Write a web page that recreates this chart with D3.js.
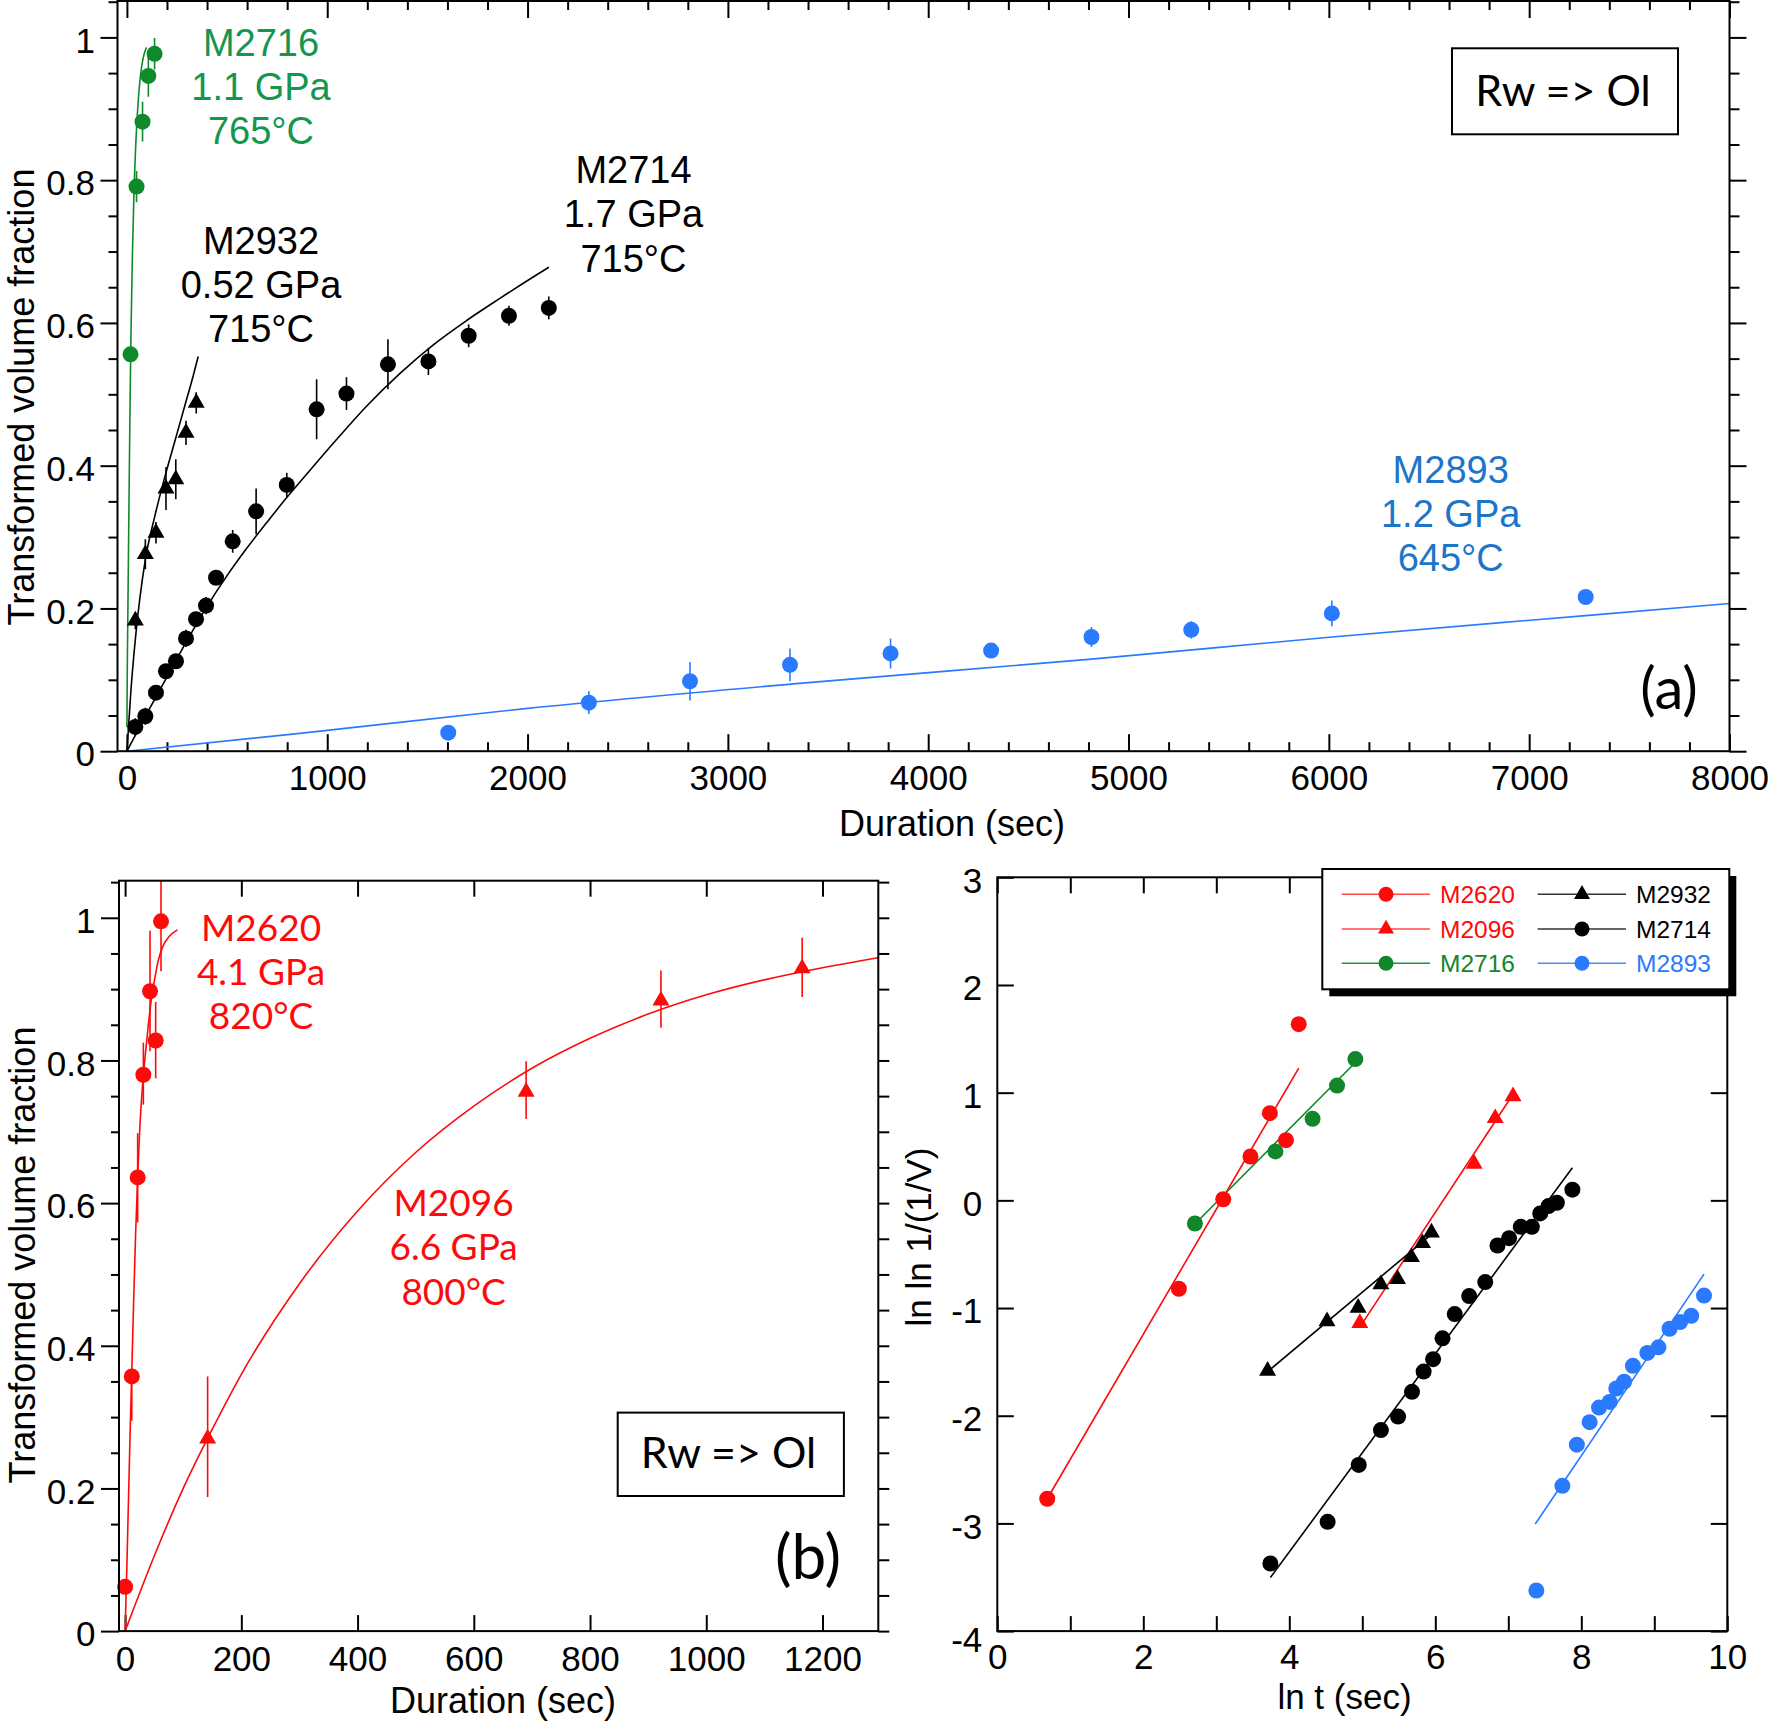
<!DOCTYPE html>
<html><head><meta charset="utf-8">
<script src="https://cdn.jsdelivr.net/npm/d3@7"></script>
<style>
html,body{margin:0;padding:0;background:#fff;}
svg{display:block;}
</style></head><body>
<svg id="chart" width="1770" height="1723"></svg>
<script>
// ================= DATA =================
// Panel (a): [duration (s), transformed fraction, error]
const aM2716 = [[18,0.556,0.006],[48,0.791,0.022],[78,0.882,0.028],[107,0.946,0.029],[138,0.977,0.022]];
const aM2716Fit = [[0,0.034],[2,0.12],[5,0.2],[10,0.34],[15,0.47],[20,0.58],[27,0.69],[35,0.78],[45,0.855],[55,0.905],[65,0.94],[80,0.97],[98,0.986]];
const aM2932 = [[42,0.183,0.012],[92,0.276,0.021],[145,0.306,0.015],[195,0.368,0.03],[244,0.381,0.028],[295,0.446,0.017],[346,0.488,0.015]];
const aM2932Fit = [[0,0],[20,0.085],[45,0.165],[90,0.265],[140,0.33],[190,0.385],[240,0.435],[290,0.485],[330,0.525],[356,0.553]];
const aM2714 = [[42,0.034,0.012],[92,0.049,0.012],[145,0.082,0.01],[195,0.112,0.01],[245,0.126,0.01],[295,0.158,0.012],[345,0.185,0.01],[395,0.204,0.012],[445,0.243,0.01],[528,0.294,0.016],[645,0.336,0.032],[798,0.373,0.017],[947,0.479,0.042],[1096,0.501,0.023],[1303,0.542,0.035],[1505,0.546,0.019],[1706,0.582,0.016],[1907,0.610,0.014],[2106,0.621,0.016]];
const aM2714Fit = [[0,0],[100,0.053],[200,0.104],[300,0.155],[400,0.203],[500,0.246],[600,0.285],[700,0.321],[800,0.356],[900,0.389],[1029,0.431],[1195,0.483],[1362,0.529],[1528,0.569],[1694,0.603],[1860,0.634],[2026,0.664],[2106,0.678]];
const aM2893 = [[1604,0.026,0],[2306,0.068,0.016],[2811,0.098,0.027],[3310,0.121,0.023],[3812,0.137,0.021],[4314,0.141,0.006],[4815,0.160,0.014],[5313,0.170,0.012],[6015,0.193,0.018],[7282,0.216,0.006]];
const aM2893Fit = [[0,0],[863,0.025],[2000,0.06],[3357,0.095],[4815,0.129],[6015,0.160],[7282,0.190],[8000,0.207]];

// Panel (b): [duration (s), fraction, error low, error high]
const bM2620 = [[0,0.062,0.062,0.062],[11.5,0.357,0.295,0.368],[21.6,0.636,0.573,0.698],[31.4,0.780,0.738,0.825],[42.9,0.897,0.813,0.982],[52.6,0.828,0.775,0.882],[61.8,0.995,0.925,1.07]];
const bM2620Fit = [[0,0],[3,0.09],[6,0.19],[9,0.29],[12,0.38],[15,0.47],[18,0.555],[21.6,0.636],[25,0.7],[30,0.765],[35,0.81],[40,0.85],[45,0.885],[50,0.91],[57,0.94],[65,0.96],[75,0.973],[90,0.983]];
const bM2096 = [[142,0.27,0.188,0.357],[690,0.756,0.718,0.799],[922,0.884,0.846,0.926],[1165,0.929,0.889,0.972]];
const bM2096Fit = [[0,0],[50,0.105],[100,0.2],[150,0.283],[200,0.36],[300,0.487],[400,0.589],[500,0.671],[600,0.736],[700,0.789],[800,0.831],[900,0.865],[1000,0.892],[1100,0.913],[1200,0.93],[1296,0.944]];

// Panel (c): [ln t, ln ln 1/(1-V)]
const cM2620 = [[0.684,-2.771],[2.487,-0.821],[3.095,0.010],[3.468,0.407],[3.734,0.810],[3.954,0.559],[4.129,1.636]];
const cM2620Fit = [[0.684,-2.771],[4.129,1.228]];
const cM2096 = [[4.966,-1.140],[6.532,0.339],[6.821,0.763],[7.065,0.967]];
const cM2096Fit = [[4.966,-1.177],[7.065,0.985]];
const cM2716 = [[2.707,-0.215],[3.810,0.454],[4.319,0.757],[4.654,1.066],[4.905,1.312]];
const cM2716Fit = [[2.707,-0.22],[4.905,1.28]];
const cM2932 = [[3.703,-1.584],[4.517,-1.124],[4.943,-0.999],[5.255,-0.779],[5.483,-0.732],[5.673,-0.528],[5.825,-0.398],[5.947,-0.299]];
const cM2932Fit = [[3.703,-1.59],[5.947,-0.315]];
const cM2714 = [[3.741,-3.372],[4.525,-2.985],[4.951,-2.457],[5.255,-2.133],[5.490,-2.008],[5.681,-1.778],[5.840,-1.590],[5.970,-1.475],[6.099,-1.281],[6.266,-1.056],[6.464,-0.889],[6.684,-0.759],[6.852,-0.419],[7.011,-0.351],[7.171,-0.246],[7.323,-0.246],[7.437,-0.121],[7.551,-0.053],[7.665,-0.022],[7.878,0.099]];
const cM2714Fit = [[3.741,-3.503],[7.878,0.303]];
const cM2893 = [[7.384,-3.623],[7.741,-2.651],[7.939,-2.269],[8.114,-2.060],[8.243,-1.924],[8.388,-1.872],[8.479,-1.747],[8.586,-1.684],[8.707,-1.537],[8.905,-1.417],[9.057,-1.365],[9.209,-1.192],[9.354,-1.130],[9.506,-1.072],[9.681,-0.884]];
const cM2893Fit = [[7.369,-3.006],[9.681,-0.685]];

// Tick values and labels
const aXTicks = [0,1000,2000,3000,4000,5000,6000,7000,8000];
const aYTicks = [0,0.2,0.4,0.6,0.8,1];
const bXTicks = [0,200,400,600,800,1000,1200];
const bYTicks = [0,0.2,0.4,0.6,0.8,1];
const cXTicks = [0,2,4,6,8,10];
const cXMinorTicks = [1,3,5,7,9];
const cYTicks = [-4,-3,-2,-1,0,1,2,3];
const legendNames = ["M2620","M2096","M2716","M2932","M2714","M2893"];
const labelA = {M2716:["M2716","1.1 GPa","765°C"], M2932:["M2932","0.52 GPa","715°C"], M2714:["M2714","1.7 GPa","715°C"], M2893:["M2893","1.2 GPa","645°C"]};
const labelB = {M2620:["M2620","4.1 GPa","820°C"], M2096:["M2096","6.6 GPa","800°C"]};

// ================= DRAWING =================
const FONT = '"Liberation Sans", Arial, Helvetica, sans-serif';
const CAL = 'Lato, "Open Sans", sans-serif';
const COL = {red:"#ff0a0a", black:"#000000", greenA:"#0f8a2a", greenTextA:"#15964e", blue:"#2a7aff", blueTextA:"#1c75c9", greenC:"#12862a"};
const svg = d3.select("#chart");

const CIRC = (r) => d3.symbol().type(d3.symbolCircle).size(Math.PI*r*r)();
const TRI = (L) => d3.symbol().type(d3.symbolTriangle).size(Math.sqrt(3)/4*L*L)();

function axis(gen, x, y, fs, dy){
  const a = svg.append("g").attr("transform",`translate(${x},${y})`).call(gen);
  a.select(".domain").remove();
  a.selectAll(".tick line").attr("stroke","#000").attr("stroke-width",2);
  a.selectAll(".tick text").attr("fill","#000").style("font-family",FONT).style("font-size",fs+"px");
  if(dy!=null) a.selectAll(".tick text").attr("dy",dy);
  return a;
}
function minorVals(lo,hi,step,majorStep){
  const out=[]; const n=Math.round((hi-lo)/step);
  for(let i=0;i<=n;i++){ const v=lo+i*step; const r=v/majorStep; if(Math.abs(r-Math.round(r))>1e-6) out.push(+v.toFixed(6)); }
  return out;
}
function frame(x0,x1,y0,y1){
  svg.append("rect").attr("x",x0).attr("y",y0).attr("width",x1-x0).attr("height",y1-y0)
    .attr("fill","none").attr("stroke","#000").attr("stroke-width",2);
}
function clip(id,x0,x1,y0,y1){
  svg.append("clipPath").attr("id",id).append("rect").attr("x",x0).attr("y",y0).attr("width",x1-x0).attr("height",y1-y0);
  return svg.append("g").attr("clip-path",`url(#${id})`);
}
function fitLine(g,xs,ys,data,color,curve){
  g.append("path").datum(data).attr("fill","none").attr("stroke",color).attr("stroke-width",1.6)
    .attr("d", d3.line().x(d=>xs(d[0])).y(d=>ys(d[1])).curve(curve||d3.curveMonotoneX));
}
function errBars(g,xs,ys,data,color,lo,hi){
  g.selectAll(null).data(data.filter(d=>lo(d)!==hi(d))).join("line")
    .attr("x1",d=>xs(d[0])).attr("x2",d=>xs(d[0])).attr("y1",d=>ys(lo(d))).attr("y2",d=>ys(hi(d)))
    .attr("stroke",color).attr("stroke-width",1.6);
}
function markers(g,xs,ys,data,color,sym){
  g.selectAll(null).data(data).join("path").attr("d",sym)
    .attr("transform",d=>`translate(${xs(d[0])},${ys(d[1])})`).attr("fill",color);
}
function multiText(lines,x,y0,dy,color,fs,ff){
  lines.forEach((s,i)=>svg.append("text").attr("x",x).attr("y",y0+i*dy).attr("text-anchor","middle")
    .style("font-family",ff).style("font-size",fs+"px").attr("fill",color).text(s));
}
function title(s,x,y,fs,rot){
  const t = svg.append("text").attr("text-anchor","middle").style("font-family",FONT).style("font-size",fs+"px").attr("fill","#000").text(s);
  if(rot) t.attr("transform",`translate(${x},${y}) rotate(-90)`); else t.attr("x",x).attr("y",y);
}
const fracFmt = d => d===0?"0":(d===1?"1":d3.format(".1f")(d));

// ---------- Panel (a) ----------
const ax = d3.scaleLinear().domain([-47,8000]).range([117.5,1729.5]);
const ay = d3.scaleLinear().domain([0,1.051]).range([751.2,1]);
{
  const L=117.5,R=1729.5,T=1,B=751.2;
  const yMin = minorVals(0,1.05,0.05,0.2);
  const xMin = minorVals(0,8000,200,1000);
  axis(d3.axisBottom(ax).tickValues(aXTicks).tickSize(-17).tickPadding(14).tickFormat(d3.format("d")),0,B,35);
  axis(d3.axisBottom(ax).tickValues(xMin).tickSize(-9).tickFormat(""),0,B,35);
  axis(d3.axisTop(ax).tickValues(aXTicks).tickSize(-17).tickFormat(""),0,T,35);
  axis(d3.axisTop(ax).tickValues(xMin).tickSize(-9).tickFormat(""),0,T,35);
  axis(d3.axisLeft(ay).tickValues(aYTicks).tickSize(17).tickPadding(5.5).tickFormat(fracFmt),L,0,35,"0.42em");
  axis(d3.axisLeft(ay).tickValues(yMin).tickSize(9).tickFormat(""),L,0,35);
  axis(d3.axisRight(ay).tickValues(aYTicks).tickSize(17).tickFormat(""),R,0,35);
  axis(d3.axisRight(ay).tickValues(yMin).tickSize(10).tickFormat(""),R,0,35);

  const g = clip("clipA",L,R,T,B);
  fitLine(g,ax,ay,aM2893Fit,COL.blue);
  fitLine(g,ax,ay,aM2714Fit,COL.black);
  fitLine(g,ax,ay,aM2932Fit,COL.black);
  fitLine(g,ax,ay,aM2716Fit,COL.greenA);
  const lo=d=>d[1]-d[2], hi=d=>d[1]+d[2];
  errBars(g,ax,ay,aM2893,COL.blue,lo,hi);
  errBars(g,ax,ay,aM2714,COL.black,lo,hi);
  errBars(g,ax,ay,aM2932,COL.black,lo,hi);
  errBars(g,ax,ay,aM2716,COL.greenA,lo,hi);
  const gm = svg.append("g");
  markers(gm,ax,ay,aM2893,COL.blue,CIRC(8));
  markers(gm,ax,ay,aM2714,COL.black,CIRC(8));
  markers(gm,ax,ay,aM2932,COL.black,TRI(17));
  markers(gm,ax,ay,aM2716,COL.greenA,CIRC(8));
  frame(L,R,T,B);

  multiText(labelA.M2716,261,55.7,44.3,COL.greenTextA,38,FONT);
  multiText(labelA.M2932,261,253.7,44.3,COL.black,38,FONT);
  multiText(labelA.M2714,633.5,183,44.3,COL.black,38,FONT);
  multiText(labelA.M2893,1450.7,482.6,44.3,COL.blueTextA,38,FONT);

  svg.append("rect").attr("x",1452).attr("y",48.3).attr("width",226).attr("height",86).attr("fill","#fff").attr("stroke","#000").attr("stroke-width",2);
  svg.append("text").attr("x",1563).attr("y",105.5).attr("text-anchor","middle").style("font-family",CAL).style("font-size","43px").text("Rw => Ol");
  svg.append("text").attr("x",1669).attr("y",709).attr("text-anchor","middle").style("font-family",CAL).style("font-size","58px").text("(a)");

  title("Duration (sec)",952,836,36,false);
  title("Transformed volume fraction",33.5,397,36,true);
}

// ---------- Panel (b) ----------
const bx = d3.scaleLinear().domain([-10.5,1296]).range([119,878.3]);
const by = d3.scaleLinear().domain([0,1.052]).range([1631.1,880.7]);
{
  const L=119,R=878.3,T=880.7,B=1631.1;
  const yMin = minorVals(0,1.05,0.05,0.2);
  axis(d3.axisBottom(bx).tickValues(bXTicks).tickSize(-16).tickPadding(15.5).tickFormat(d3.format("d")),0,B,35);
  axis(d3.axisTop(bx).tickValues(bXTicks).tickSize(-16).tickFormat(""),0,T,35);
  axis(d3.axisLeft(by).tickValues(bYTicks).tickSize(18).tickPadding(5.5).tickFormat(fracFmt),L,0,35,"0.42em");
  axis(d3.axisLeft(by).tickValues(yMin).tickSize(8).tickFormat(""),L,0,35);
  axis(d3.axisRight(by).tickValues(bYTicks.concat(yMin)).tickSize(11).tickFormat(""),R,0,35);

  const g = clip("clipB",L,R,T,B);
  fitLine(g,bx,by,bM2096Fit,COL.red);
  fitLine(g,bx,by,bM2620Fit,COL.red);
  const lo=d=>d[2], hi=d=>d[3];
  errBars(g,bx,by,bM2096,COL.red,lo,hi);
  errBars(g,bx,by,bM2620,COL.red,lo,hi);
  const gm = svg.append("g");
  markers(gm,bx,by,bM2096,COL.red,TRI(17));
  markers(gm,bx,by,bM2620,COL.red,CIRC(8));
  frame(L,R,T,B);

  multiText(labelB.M2620,261,941,44,COL.red,37,CAL);
  multiText(labelB.M2096,453.6,1216,44.3,COL.red,37,CAL);

  svg.append("rect").attr("x",617.7).attr("y",1412.6).attr("width",226.2).attr("height",83.4).attr("fill","#fff").attr("stroke","#000").attr("stroke-width",2);
  svg.append("text").attr("x",728.5).attr("y",1467.8).attr("text-anchor","middle").style("font-family",CAL).style("font-size","43px").text("Rw => Ol");
  svg.append("text").attr("x",808).attr("y",1579).attr("text-anchor","middle").style("font-family",CAL).style("font-size","62px").text("(b)");

  title("Duration (sec)",503,1713,36,false);
  title("Transformed volume fraction",35,1255,36,true);
}

// ---------- Panel (c) ----------
const cx = d3.scaleLinear().domain([0,10]).range([997.3,1727.3]);
const cy = d3.scaleLinear().domain([-4,3]).range([1631.1,877.3]);
{
  const L=997.3,R=1727.3,T=877.3,B=1631.1;
  axis(d3.axisBottom(cx).tickValues(cXTicks).tickSize(-15).tickPadding(13).tickFormat(d=>String(d)),0,B,35);
  axis(d3.axisBottom(cx).tickValues(cXMinorTicks).tickSize(-15).tickFormat(""),0,B,35);
  axis(d3.axisTop(cx).tickValues(cXTicks.concat(cXMinorTicks)).tickSize(-16).tickFormat(""),0,T,35);
  const yl = axis(d3.axisLeft(cy).tickValues(cYTicks).tickSize(-16.5).tickPadding(15).tickFormat(d=>String(d)),L,0,35,"0.42em");
  yl.selectAll(".tick text").filter(d=>d===-4).attr("dy","0.58em");
  axis(d3.axisRight(cy).tickValues(cYTicks).tickSize(-16.5).tickFormat(""),R,0,35);

  const g = clip("clipC",L,R,T,B);
  fitLine(g,cx,cy,cM2620Fit,COL.red,d3.curveLinear);
  fitLine(g,cx,cy,cM2716Fit,COL.greenC,d3.curveLinear);
  fitLine(g,cx,cy,cM2096Fit,COL.red,d3.curveLinear);
  fitLine(g,cx,cy,cM2932Fit,COL.black,d3.curveLinear);
  fitLine(g,cx,cy,cM2714Fit,COL.black,d3.curveLinear);
  fitLine(g,cx,cy,cM2893Fit,COL.blue,d3.curveLinear);
  const gm = svg.append("g");
  markers(gm,cx,cy,cM2620,COL.red,CIRC(8));
  markers(gm,cx,cy,cM2716,COL.greenC,CIRC(8));
  markers(gm,cx,cy,cM2096,COL.red,TRI(17));
  markers(gm,cx,cy,cM2932,COL.black,TRI(17));
  markers(gm,cx,cy,cM2714,COL.black,CIRC(8));
  markers(gm,cx,cy,cM2893,COL.blue,CIRC(8));
  frame(L,R,T,B);

  title("ln t (sec)",1344.5,1709,35,false);
  title("ln ln 1/(1/V)",931,1237,35,true);

  // legend
  const lx=1322.3, ly=869, lw=407, lh=120.3;
  svg.append("rect").attr("x",lx+7).attr("y",ly+7).attr("width",lw).attr("height",lh).attr("fill","#000");
  svg.append("rect").attr("x",lx).attr("y",ly).attr("width",lw).attr("height",lh).attr("fill","#fff").attr("stroke","#000").attr("stroke-width",2);
  const legColor = {M2620:COL.red,M2096:COL.red,M2716:COL.greenC,M2932:COL.black,M2714:COL.black,M2893:COL.blue};
  const legLine = {M2620:"#ff4a4a",M2096:"#ff4a4a",M2716:"#2a8f3a",M2932:"#333",M2714:"#333",M2893:"#4a8cff"};
  const legSym = {M2620:CIRC(7.5),M2096:TRI(16),M2716:CIRC(7.5),M2932:TRI(16),M2714:CIRC(7.5),M2893:CIRC(7.5)};
  const colX = [1341.7,1537.7], rowY=[894.3,929,963.3];
  legendNames.forEach((n,i)=>{
    const c=Math.floor(i/3), r=i%3, x0=colX[c], y0=rowY[r];
    svg.append("line").attr("x1",x0).attr("x2",x0+88.3).attr("y1",y0).attr("y2",y0).attr("stroke",legLine[n]).attr("stroke-width",1.6);
    svg.append("path").attr("d",legSym[n]).attr("transform",`translate(${x0+44.3},${y0})`).attr("fill",legColor[n]);
    svg.append("text").attr("x",x0+98.3).attr("y",y0+8.8).style("font-family",FONT).style("font-size","24.5px").attr("fill",legColor[n]).text(n);
  });
}
</script>
</body></html>
